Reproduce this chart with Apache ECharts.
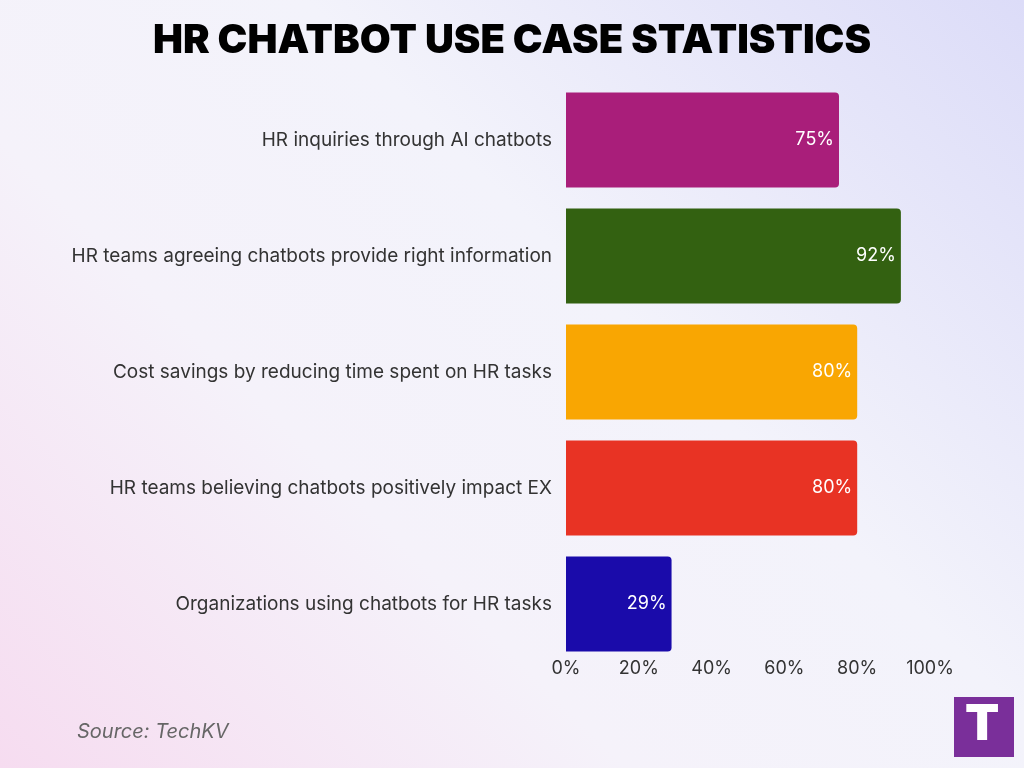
<!DOCTYPE html>
<html><head><meta charset="utf-8">
<script src="https://cdn.jsdelivr.net/npm/echarts@6/dist/echarts.min.js"></script>
<style>html,body{margin:0;padding:0;}#c{width:1024px;height:768px;background:linear-gradient(45deg,#f6dcf0 0%,#f5f2fa 35%,#f3f3fb 60%,#dcdcf8 100%);}</style>
</head><body><div id="c"></div>
<script>
const categories = ["HR inquiries through AI chatbots","HR teams agreeing chatbots provide right information","Cost savings by reducing time spent on HR tasks","HR teams believing chatbots positively impact EX","Organizations using chatbots for HR tasks"];
const values = [75, 92, 80, 80, 29];
const colors = ["#A91E7A","#336111","#F9A602","#E83324","#1A0BAA"];
const chart = echarts.init(document.getElementById('c'));
chart.setOption({
  title:{text:"HR CHATBOT USE CASE STATISTICS",left:'center',top:16,textStyle:{fontFamily:'Inter',fontWeight:900,fontSize:40,color:'#000'}},
  grid:{left:566,right:94,top:82,bottom:106,containLabel:false},
  xAxis:{type:'value',min:0,max:100,interval:20,splitLine:{show:false},axisLine:{show:false},axisTick:{show:false},
    axisLabel:{formatter:'{value}%',fontSize:18,color:'#333',fontFamily:'Inter',margin:-2}},
  yAxis:{type:'category',inverse:true,data:categories,axisLine:{show:false},axisTick:{show:false},
    axisLabel:{fontSize:19,color:'#333',fontFamily:'Inter',margin:14}},
  series:[{type:'bar',barWidth:95,data:values.map((v,i)=>({value:v,itemStyle:{color:colors[i],borderRadius:[0,4,4,0]}})),
    label:{show:true,position:'insideRight',formatter:'{c}%',color:'#fff',fontSize:18,fontFamily:'Inter'}}],
  graphic:[
    {type:'text',left:77,top:722,style:{text:'Source: TechKV',font:'italic 20px Inter',fill:'#666'}},
    {type:'rect',left:954,top:697,shape:{width:60,height:60},style:{fill:'#7a2f9a'}},
    {type:'text',left:965,top:700,style:{text:'T',font:'900 50px Inter',fill:'#fff'}}
  ]
});
</script></body></html>
